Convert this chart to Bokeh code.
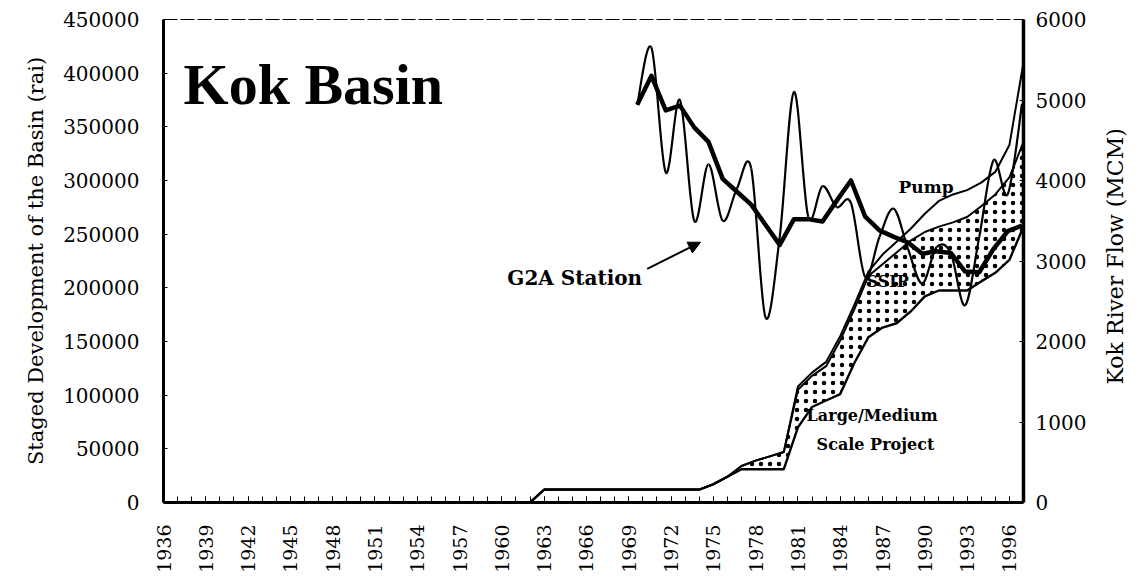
import numpy as np
from bokeh.plotting import figure
from bokeh.layouts import row
from bokeh.models import (Range1d, LinearAxis, FixedTicker, Label, Arrow,
                          NormalHead, BasicTickFormatter)
from bokeh.embed import file_html
from bokeh.resources import INLINE

# ---------------- data ----------------
dev_years = [1936, 1962, 1963, 1964, 1965, 1966, 1967, 1968, 1969, 1970, 1971,
             1972, 1973, 1974, 1975, 1976, 1977, 1978, 1979, 1980, 1981, 1982,
             1983, 1984, 1985, 1986, 1987, 1988, 1989, 1990, 1991, 1992, 1993,
             1994, 1995, 1996, 1997]
# cumulative staged development (rai)
large_medium = [0, 0, 12000, 12000, 12000, 12000, 12000, 12000, 12000, 12000,
                12000, 12000, 12000, 12000, 17000, 24000, 31000, 31000, 31000,
                31000, 70000, 89000, 95000, 101000, 130000, 154000, 163000,
                167000, 178000, 192000, 197500, 197500, 197500, 206000, 214000,
                226000, 257000]
ssip_top = [0, 0, 12000, 12000, 12000, 12000, 12000, 12000, 12000, 12000,
            12000, 12000, 12000, 12000, 17000, 24000, 34000, 39000, 43000,
            47000, 105000, 118000, 127000, 151000, 180000, 211000, 222000,
            233000, 244000, 252000, 257000, 261000, 266000, 276000, 287000,
            303000, 336000]
pump_top = [0, 0, 12000, 12000, 12000, 12000, 12000, 12000, 12000, 12000,
            12000, 12000, 12000, 12000, 17000, 24000, 34000, 39000, 43000,
            47000, 108000, 121000, 131000, 155000, 184000, 215000, 231000,
            243000, 255000, 269000, 281000, 287000, 291000, 298000, 308000,
            333000, 410000]

flow_years = [1970, 1971, 1972, 1973, 1974, 1975, 1976, 1977, 1978, 1979,
              1980, 1981, 1982, 1983, 1984, 1985, 1986, 1987, 1988, 1989,
              1990, 1991, 1992, 1993, 1994, 1995, 1996, 1997]
g2a_flow = [4940, 5650, 4100, 5000, 3500, 4200, 3500, 3900, 4150, 2300,
            3300, 5100, 3550, 3930, 3670, 3720, 2800, 3300, 3650, 3150,
            2720, 3170, 3100, 2450, 3300, 4250, 3830, 4950]
flow_trend = [4940, 5300, 4870, 4930, 4660, 4480, 4020, 3860, 3700, 3450,
              3200, 3520, 3520, 3490, 3750, 4000, 3550, 3380, 3300, 3230,
              3090, 3120, 3100, 2870, 2860, 3150, 3370, 3440]

x_ticks = [1936, 1939, 1942, 1945, 1948, 1951, 1954, 1957, 1960, 1963, 1966,
           1969, 1972, 1975, 1978, 1981, 1984, 1987, 1990, 1993, 1996]
x_minor = list(range(1936, 1998))
left_ticks = [0, 50000, 100000, 150000, 200000, 250000, 300000, 350000,
              400000, 450000]
right_ticks = [0, 1000, 2000, 3000, 4000, 5000, 6000]

SERIF = "DejaVu Serif"
H = 577

p = figure(width=1098, height=H,
           x_range=Range1d(1936, 1997), y_range=Range1d(0, 450000),
           output_backend="svg", toolbar_location=None,
           min_border_left=163, min_border_right=75,
           min_border_top=19, min_border_bottom=75,
           background_fill_color="white", border_fill_color="white")
p.extra_y_ranges = {"flow": Range1d(0, 6000)}
p.extra_x_ranges = {"flowx": Range1d(1936.762, 1997.105)}
p.xgrid.visible = False
p.ygrid.visible = False
p.outline_line_color = "black"
p.outline_line_width = 1.2
p.outline_line_dash = "14 3"

# x axis
xa = p.xaxis[0]
xa.ticker = FixedTicker(ticks=x_ticks, minor_ticks=x_minor)
xa.major_label_orientation = np.pi / 2
xa.major_label_text_font = SERIF
xa.major_label_text_font_size = "19px"
xa.major_label_text_color = "black"
xa.major_label_standoff = 22
xa.axis_line_width = 3
xa.axis_line_color = "black"
xa.major_tick_in = 6
xa.major_tick_out = 0
xa.minor_tick_in = 6
xa.minor_tick_out = 0
xa.major_tick_line_color = "black"
xa.minor_tick_line_color = "black"

# left axis
ya = p.yaxis[0]
ya.ticker = FixedTicker(ticks=left_ticks)
ya.formatter = BasicTickFormatter(use_scientific=False)
ya.axis_label = "Staged Development of the Basin (rai)"
ya.axis_label_text_font = SERIF
ya.axis_label_text_font_style = "normal"
ya.axis_label_text_font_size = "21px"
ya.axis_label_text_color = "black"
ya.axis_label_standoff = 12
ya.major_label_text_font = SERIF
ya.major_label_text_font_size = "20px"
ya.major_label_text_color = "black"
ya.major_label_standoff = 24
ya.axis_line_width = 3
ya.axis_line_color = "black"
ya.major_tick_in = 4
ya.major_tick_out = 0
ya.minor_tick_in = 0
ya.minor_tick_out = 0

# right axis (ticks only; its title sits in the narrow strip to the right)
ra = LinearAxis(y_range_name="flow", ticker=FixedTicker(ticks=right_ticks),
                formatter=BasicTickFormatter(use_scientific=False))
ra.major_label_text_font = SERIF
ra.major_label_text_font_size = "20px"
ra.major_label_text_color = "black"
ra.major_label_standoff = 12
ra.axis_line_width = 3.5
ra.axis_line_color = "black"
ra.major_tick_in = 4
ra.major_tick_out = 0
ra.minor_tick_in = 0
ra.minor_tick_out = 0
p.add_layout(ra, "right")

# stippled SSIP band
p.varea(x=dev_years, y1=large_medium, y2=ssip_top, fill_color="white",
        hatch_pattern="dot", hatch_color="black", hatch_scale=9,
        hatch_weight=1.1)
p.line(dev_years, large_medium, line_color="black", line_width=2.4,
       line_join="round")
p.line(dev_years, ssip_top, line_color="black", line_width=2,
       line_join="round")
p.line(dev_years, pump_top, line_color="black", line_width=2,
       line_join="round")

# flow trend (thick)
p.line(flow_years, flow_trend, line_color="black", line_width=4.5,
       line_join="round", x_range_name="flowx", y_range_name="flow")

# G2A station flow: smoothed curve through the yearly values
fx = np.array(flow_years, dtype=float)
fy = np.array(g2a_flow, dtype=float)
n = len(fx)
px = np.concatenate([[fx[0]], fx, [fx[-1]]])
py = np.concatenate([[fy[0]], fy, [fy[-1]]])
p0x, p1x, p2x, p3x = px[0:n - 1], px[1:n], px[2:n + 1], px[3:n + 2]
p0y, p1y, p2y, p3y = py[0:n - 1], py[1:n], py[2:n + 1], py[3:n + 2]
p.bezier(x0=p1x, y0=p1y, x1=p2x, y1=p2y,
         cx0=p1x + (p2x - p0x) / 6, cy0=p1y + (p2y - p0y) / 6,
         cx1=p2x - (p3x - p1x) / 6, cy1=p2y - (p3y - p1y) / 6,
         line_color="black", line_width=2.2,
         x_range_name="flowx", y_range_name="flow")

# annotations
p.add_layout(Label(x=1937.42, y=389900, text="Kok Basin",
                   text_font="Liberation Serif", text_font_style="bold",
                   text_font_size="58px", text_color="black",
                   text_align="left", text_baseline="alphabetic"))
p.add_layout(Label(x=1969.95, y=209600, text="G2A Station",
                   text_font=SERIF, text_font_style="bold",
                   text_font_size="20px", text_color="black",
                   text_align="right", text_baseline="middle"))
p.add_layout(Label(x=1988.14, y=294400, text="Pump",
                   text_font=SERIF, text_font_style="bold",
                   text_font_size="17px", text_color="black",
                   text_align="left", text_baseline="middle"))
p.add_layout(Label(x=1985.87, y=205900, text="SSIP",
                   text_font=SERIF, text_font_style="bold",
                   text_font_size="16px", text_color="black",
                   text_align="left", text_baseline="middle"))
p.add_layout(Label(x=1986.26, y=80600, text="Large/Medium",
                   text_font=SERIF, text_font_style="bold",
                   text_font_size="16px", text_color="black",
                   text_align="center", text_baseline="middle"))
p.add_layout(Label(x=1986.5, y=54500, text="Scale Project",
                   text_font=SERIF, text_font_style="bold",
                   text_font_size="16px", text_color="black",
                   text_align="center", text_baseline="middle"))
p.add_layout(Arrow(x_start=1970.31, y_start=217700, x_end=1974.09,
                   y_end=242500, line_color="black", line_width=2,
                   end=NormalHead(size=12, fill_color="black",
                                  line_color="black")))

# narrow strip carrying the right-hand axis title (reads bottom-to-top)
strip = figure(width=36, height=H, x_range=Range1d(0, 36),
               y_range=Range1d(0, H), output_backend="svg",
               toolbar_location=None, x_axis_location=None,
               y_axis_location=None, min_border=0,
               background_fill_color="white", border_fill_color="white")
strip.outline_line_color = None
strip.xgrid.visible = False
strip.ygrid.visible = False
strip.add_layout(Label(x=17, y=294, text="Kok River Flow (MCM)",
                       text_font=SERIF, text_font_style="normal",
                       text_font_size="22px", text_color="black",
                       angle=np.pi / 2, text_align="center",
                       text_baseline="middle"))

layout = row(p, strip)
open("out.html", "w").write(file_html(layout, INLINE))
